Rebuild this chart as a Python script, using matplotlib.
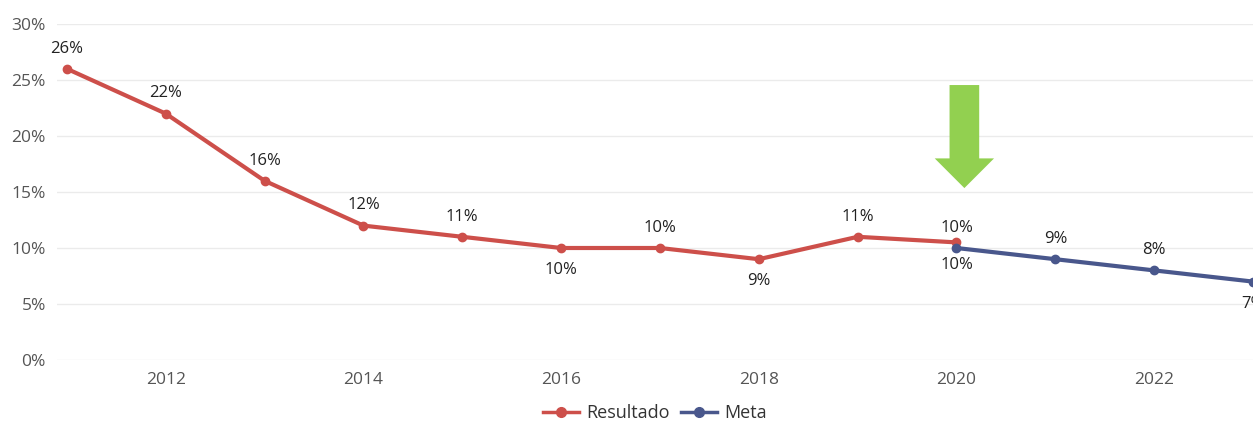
import matplotlib.pyplot as plt
from matplotlib.patches import Polygon
from matplotlib.lines import Line2D

plt.rcParams['font.family'] = ['Open Sans', 'DejaVu Sans']

years_res = [2011, 2012, 2013, 2014, 2015, 2016, 2017, 2018, 2019, 2020]
resultado = [26, 22, 16, 12, 11, 10, 10, 9, 11, 10.5]
res_labels = ["26%", "22%", "16%", "12%", "11%", "10%", "10%", "9%", "11%", "10%"]
# label offsets in points (positive = above the point)
res_offset = [14.5, 14.5, 14.5, 14.5, 14.5, -16, 14.5, -16, 14.5, 10.5]

years_meta = [2020, 2021, 2022, 2023]
meta = [10, 9, 8, 7]
meta_labels = ["10%", "9%", "8%", "7%"]
meta_offset = [-12, 14.5, 14.5, -16]

red = '#CD4F4A'
blue = '#49578C'

fig = plt.figure(figsize=(12.53, 4.24), dpi=100)
ax = fig.add_axes([57 / 1253, 64 / 424, 1 - 57 / 1253, 336 / 424])

ax.plot(years_res, resultado, color=red, lw=3, marker='o', ms=6, zorder=3, clip_on=False)
ax.plot(years_meta, meta, color=blue, lw=3, marker='o', ms=6, zorder=3, clip_on=False)

for x, y, lab, off in zip(years_res, resultado, res_labels, res_offset):
    ax.annotate(lab, (x, y), xytext=(0, off), textcoords='offset points',
                ha='center', va='center', fontsize=12, color='#222222')
for x, y, lab, off in zip(years_meta, meta, meta_labels, meta_offset):
    ax.annotate(lab, (x, y), xytext=(0, off), textcoords='offset points',
                ha='center', va='center', fontsize=12, color='#222222', annotation_clip=False)

# green arrow above 2020
ax.add_patch(Polygon([(2019.93, 24.55), (2020.23, 24.55), (2020.23, 18.0), (2020.38, 18.0),
                      (2020.08, 15.35), (2019.78, 18.0), (2019.93, 18.0)],
                     closed=True, color='#92D050', lw=0, zorder=4))

ax.set_xlim(2010.9, 2023.0)
ax.set_ylim(0, 30)
ax.set_yticks(range(0, 31, 5))
ax.set_yticklabels([f"{v}%" for v in range(0, 31, 5)])
ax.set_xticks([2012, 2014, 2016, 2018, 2020, 2022])
ax.tick_params(length=0, labelsize=12.5, colors='#555555', pad=8)
ax.tick_params(axis='x', pad=9)
ax.grid(axis='y', color='#EBEBEB', lw=1)
ax.set_axisbelow(True)
for s in ax.spines.values():
    s.set_visible(False)

handles = [Line2D([0], [0], color=red, lw=2.5, marker='o', ms=7),
           Line2D([0], [0], color=blue, lw=2.5, marker='o', ms=7)]
fig.legend(handles, ['Resultado', 'Meta'], loc='center', bbox_to_anchor=(655 / 1253, 1 - 413 / 424),
           ncol=2, frameon=False, fontsize=13, handlelength=2.0, columnspacing=0.6,
           handletextpad=0.4, labelcolor='#333333')

fig.savefig('out.png', dpi=100)
